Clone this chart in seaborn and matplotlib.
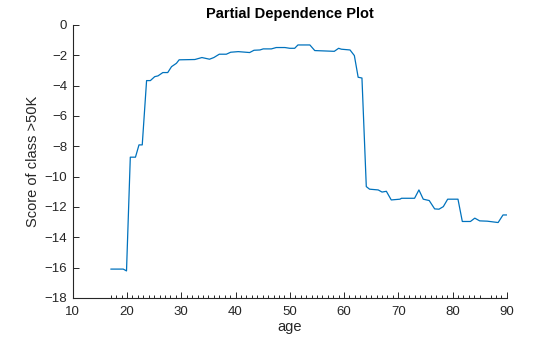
import matplotlib
matplotlib.use("Agg")
import matplotlib.pyplot as plt
import seaborn as sns
import pandas as pd

# Partial dependence of the ">50K" class score on age (curve vertices)
age = [17.0, 19.3, 19.9, 20.6, 21.55, 22.2, 22.8, 23.6, 24.3, 25.1, 25.7, 26.6,
       27.5, 28.2, 29.1, 29.6, 32.5, 33.8, 35.2, 36.0, 37.0, 38.3, 39.1, 40.5,
       42.6, 43.4, 44.5, 45.1, 46.6, 47.5, 49.1, 50.0, 50.9, 51.5, 53.7, 54.6,
       58.2, 59.0, 59.5, 61.1, 61.9, 62.6, 63.3, 64.1, 64.7, 66.3, 67.0, 67.8,
       68.7, 70.3, 70.6, 73.0, 73.8, 74.6, 75.7, 76.7, 77.5, 78.3, 79.1, 81.0,
       81.8, 83.3, 84.1, 85.0, 86.4, 88.4, 89.3, 90.0]
score = [-16.10, -16.10, -16.22, -8.72, -8.72, -7.91, -7.91, -3.67, -3.67, -3.41, -3.36, -3.14,
         -3.14, -2.75, -2.53, -2.30, -2.28, -2.15, -2.26, -2.15, -1.93, -1.93, -1.80, -1.76,
         -1.82, -1.67, -1.65, -1.58, -1.58, -1.49, -1.49, -1.54, -1.54, -1.32, -1.32, -1.69,
         -1.74, -1.54, -1.60, -1.65, -2.02, -3.45, -3.50, -10.66, -10.83, -10.88, -11.02, -10.97,
         -11.54, -11.49, -11.43, -11.43, -10.88, -11.49, -11.58, -12.13, -12.15, -11.98, -11.49, -11.49,
         -12.96, -12.96, -12.74, -12.92, -12.94, -13.03, -12.53, -12.53]

# Observed ages in the training data (drawn as rug ticks on the x axis)
observed_ages = [a for a in range(17, 91) if a != 86]

x_ticks = [10, 20, 30, 40, 50, 60, 70, 80, 90]
y_ticks = [0, -2, -4, -6, -8, -10, -12, -14, -16, -18]

sns.set_style("ticks")
plt.rcParams["font.family"] = ["Liberation Sans", "DejaVu Sans"]

fig = plt.figure(figsize=(5.6, 3.37), dpi=100)
ax = fig.add_axes([0.130, 0.116, 0.775, 0.810])

df = pd.DataFrame({"age": age, "score": score})
sns.lineplot(data=df, x="age", y="score", ax=ax, color="#0072BD",
             linewidth=0.9, sort=False, estimator=None)

ax.set_xlim(10, 90)
ax.set_ylim(-18, 0)
ax.set_xticks(x_ticks)
ax.set_yticks(y_ticks)
ax.set_xticks(observed_ages, minor=True)
ax.tick_params(axis="both", which="major", direction="in", length=4.2,
               width=0.7, labelsize=9.5, colors="#262626")
ax.tick_params(axis="x", which="major", pad=6)
ax.tick_params(axis="y", which="major", pad=4)
ax.tick_params(axis="x", which="minor", direction="in", length=2.2,
               width=0.7, colors="#262626")
for side in ("top", "right"):
    ax.spines[side].set_visible(False)
for side in ("left", "bottom"):
    ax.spines[side].set_linewidth(0.8)
    ax.spines[side].set_color("#262626")

ax.set_xlabel("age", fontsize=10.5, color="#262626", labelpad=1)
ax.set_ylabel("Score of class >50K", fontsize=10.5, color="#262626", labelpad=3)
ax.set_title("Partial Dependence Plot", fontsize=10.5, fontweight="bold",
             color="black", pad=5)

fig.savefig("out.png", dpi=100, facecolor="white")
